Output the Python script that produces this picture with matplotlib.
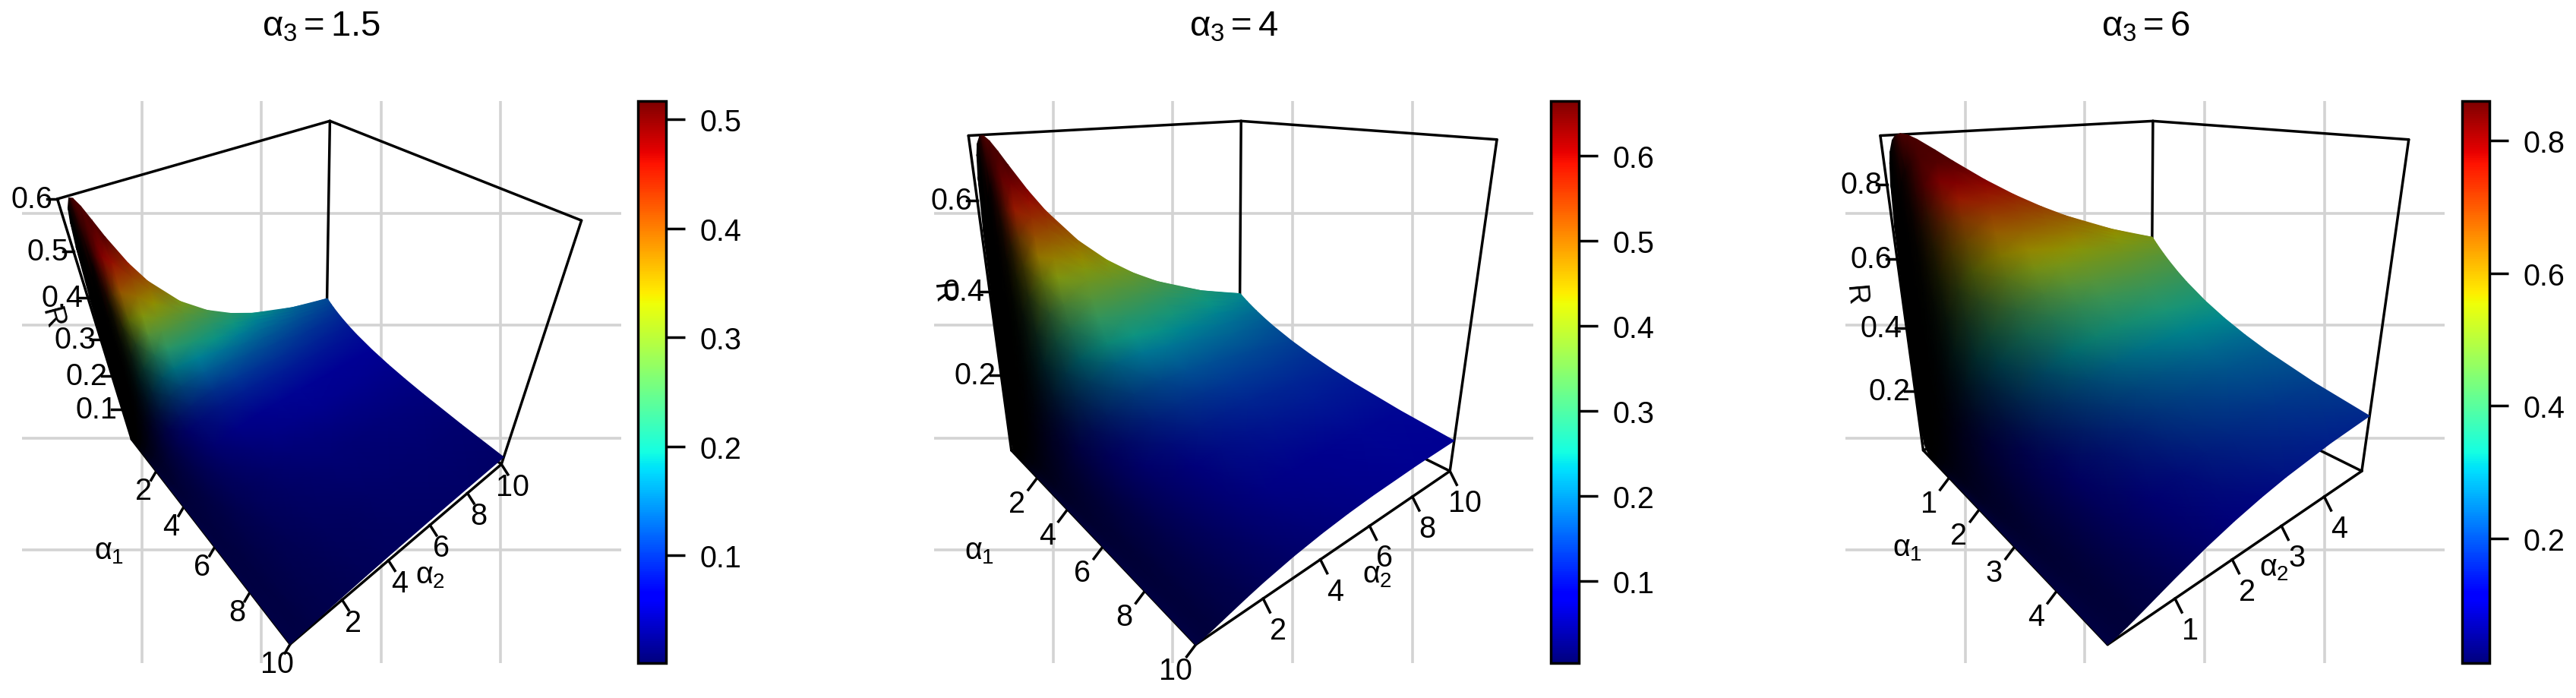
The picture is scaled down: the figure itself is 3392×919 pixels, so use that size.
import numpy as np, matplotlib
matplotlib.use('Agg')
import matplotlib.pyplot as plt
from matplotlib.cm import ScalarMappable
from matplotlib.colors import Normalize
plt.rcParams['font.family']=['Liberation Sans','DejaVu Sans']
plt.rcParams['mathtext.fontset']='custom'
plt.rcParams['mathtext.rm']='Liberation Sans'
plt.rcParams['mathtext.it']='Liberation Sans'
plt.rcParams['mathtext.bf']='Liberation Sans'

# Axis values (alpha_1 rows, alpha_2 columns); the third panel spans half this range
alpha1_values=[.02,.06,.12,.2,.3,.45,.7,1,1.5,2,3,4,5,6,8,10]
alpha2_values=[0,.05,.1,.15,.2,.3,.4,.55,.75,1,1.5,2,3,4,5,6,8,10]
axis_limits=[10,10,5]
# R values, in units of 1e-4
R_alpha3_15=[
[1597,4071,5084,5566,5808,5971,5944,5775,5474,5089,4416,3882,3114,2595,2224,1944,1554,1294],
[448,1783,2750,3409,3863,4398,4655,4785,4741,4554,4091,3662,2993,2519,2171,1906,1531,1278],
[177,853,1491,2019,2443,3050,3431,3749,3910,3909,3673,3369,2826,2411,2095,1850,1497,1255],
[86,456,856,1228,1556,2084,2469,2851,3126,3259,3216,3035,2627,2279,2001,1780,1453,1226],
[48,268,525,780,1021,1439,1774,2146,2460,2667,2766,2689,2408,2130,1894,1699,1402,1191],
[27,154,311,476,638,940,1202,1519,1823,2061,2262,2280,2133,1935,1749,1587,1331,1141],
[14,82,171,267,366,560,741,976,1227,1452,1701,1793,1777,1670,1546,1427,1224,1066],
[8,49,104,164,228,357,482,654,849,1039,1282,1403,1464,1423,1349,1268,1114,986],
[4,27,58,93,130,208,287,399,533,675,878,1003,1112,1127,1102,1060,964,873],
[3,18,38,62,87,140,195,275,374,483,650,762,881,921,922,904,845,780],
[2,10,21,34,49,79,111,159,221,291,408,494,603,657,681,686,669,637],
[1,6,14,22,32,52,74,107,150,200,286,353,446,499,529,543,546,532],
[1,5,10,16,23,38,54,78,110,148,215,269,347,396,426,444,457,454],
[1,3,8,12,18,29,41,60,85,115,169,213,280,324,353,372,390,393],
[0,2,5,8,12,19,27,40,57,77,114,146,196,231,257,275,296,305],
[0,2,4,6,8,14,20,29,41,56,84,108,147,176,197,214,235,246]]
R_alpha3_4=[
[1674,5432,6481,6921,7134,7286,7286,7178,6965,6672,6106,5609,4810,4204,3733,3356,2791,2388],
[470,2880,4235,5024,5517,6060,6312,6444,6423,6272,5854,5434,4708,4136,3685,3320,2768,2373],
[186,1541,2640,3435,4014,4767,5205,5554,5731,5741,5509,5187,4562,4040,3615,3267,2735,2350],
[90,879,1664,2321,2856,3640,4163,4650,4984,5142,5099,4887,4379,3916,3525,3198,2691,2320],
[50,536,1083,1589,2034,2749,3277,3822,4255,4528,4653,4550,4167,3770,3418,3116,2639,2283],
[28,316,673,1030,1367,1953,2428,2967,3451,3810,4096,4112,3879,3567,3267,3000,2563,2230],
[15,173,384,610,835,1260,1634,2101,2569,2968,3383,3522,3468,3266,3039,2821,2445,2146],
[9,105,239,387,541,846,1131,1509,1920,2304,2767,2981,3062,2958,2799,2629,2315,2052],
[5,59,136,225,320,517,711,984,1304,1631,2081,2339,2540,2541,2462,2354,2122,1910],
[3,39,91,151,217,357,499,706,959,1232,1638,1899,2151,2213,2188,2123,1954,1784],
[2,21,51,85,124,207,295,427,598,793,1111,1343,1617,1736,1771,1761,1679,1569],
[1,14,33,56,82,139,200,294,418,564,817,1014,1272,1409,1472,1491,1462,1395],
[1,10,24,41,60,101,147,217,313,428,633,800,1035,1173,1248,1284,1288,1250],
[1,8,18,31,46,78,114,169,245,339,509,652,863,996,1076,1121,1147,1129],
[0,5,12,20,30,52,75,113,166,231,355,464,634,752,830,881,930,938],
[0,4,9,15,22,37,55,83,122,171,266,352,491,593,666,717,774,795]]
R_alpha3_6=[
[3642,6980,8050,8550,8834,9113,9225,9267,9222,9103,8800,8482,7878,7342,6870,6452,5751,5186],
[1288,3989,5481,6382,6972,7680,8067,8375,8545,8587,8457,8231,7720,7230,6786,6386,5707,5154],
[556,2245,3538,4480,5181,6133,6732,7281,7674,7901,7985,7877,7494,7070,6664,6290,5642,5106],
[282,1321,2287,3093,3754,4751,5448,6153,6723,7118,7420,7444,7209,6864,6507,6166,5557,5044],
[161,821,1516,2152,2714,3634,4336,5104,5784,6306,6802,6955,6876,6620,6319,6016,5454,4969],
[90,492,956,1415,1848,2614,3250,4003,4732,5347,6023,6316,6424,6281,6054,5802,5306,4860],
[48,273,553,849,1144,1707,2215,2868,3561,4206,5015,5447,5772,5776,5651,5472,5073,4686],
[28,166,346,543,748,1156,1546,2078,2684,3291,4131,4640,5124,5254,5223,5116,4815,4490],
[16,94,199,318,446,712,980,1368,1840,2352,3135,3672,4281,4541,4620,4603,4431,4194],
[10,62,133,214,304,494,691,986,1362,1787,2483,2999,3647,3976,4125,4169,4096,3928],
[6,34,74,121,174,288,411,601,855,1159,1699,2139,2764,3144,3365,3482,3539,3474],
[4,22,49,80,116,194,279,414,599,829,1256,1624,2188,2566,2812,2965,3098,3101],
[3,16,35,58,84,142,205,308,450,630,976,1287,1788,2146,2396,2564,2742,2791],
[2,12,27,45,65,109,159,240,354,500,787,1052,1496,1829,2073,2247,2449,2529],
[1,8,18,29,42,72,106,161,240,343,552,752,1105,1388,1609,1778,1998,2113],
[1,6,13,21,31,52,77,117,176,254,414,571,859,1100,1295,1452,1671,1800]]
tables=[R_alpha3_15,R_alpha3_4,R_alpha3_6]
axis_ticks=[[2,4,6,8,10],[2,4,6,8,10],[1,2,3,4]]
r_ticks=[[.1,.2,.3,.4,.5,.6],[.2,.4,.6],[.2,.4,.6,.8]]
bar_ticks=[[.1,.2,.3,.4,.5],[.1,.2,.3,.4,.5,.6],[.2,.4,.6,.8]]
bar_ranges=[(.001,.5168),(.0037,.664),(.0116,.86)]
r_tops=[.6,.73,.924]
titles=[r'$\alpha_3 = 1.5$',r'$\alpha_3 = 4$',r'$\alpha_3 = 6$']

W,H=3392,920
fig=plt.figure(figsize=(W/100,H/100),dpi=100)
# Perspective camera of each panel, like the matrix returned by R's persp()
P1=np.array([[107.85271077464976,352.69070210535216,-119.6968174522051,173.41829588900237],[45.696541225509925,-37.11748145501301,-392.2565577601018,579.3072356305156],[-0.2638735132048742,0.22406287918077697,-0.28851302154137515,1.0]])
P2=np.array([[114.31569744793717,425.55931192232345,-68.8910462221544,131.17688958930552],[-36.00321597108059,30.541834791579465,-443.92478686618176,593.7810948923087],[-0.34351326521840125,0.2905133689955333,-0.165445774935169,1.0]])
P=[P1,P2,P2]
def proj(M,u,v,w):
    d=M[2,0]*u+M[2,1]*v+M[2,2]*w+M[2,3]
    return (M[0,0]*u+M[0,1]*v+M[0,2]*w+M[0,3])/d,(M[1,0]*u+M[1,1]*v+M[1,2]*w+M[1,3])/d
X0=[0,1200.6,2401.3]; CX=[839.6,2041.6,3241.5]
LW=2.5; FS=28.5
for i in range(3):
    ax=fig.add_axes([(X0[i]+29)/W,1-874/H,789/W,740/H])
    ax.set_xlim(29,818); ax.set_ylim(874,134)
    for sp in ax.spines.values(): sp.set_visible(False)
    ax.set_axisbelow(True)
    ax.set_xticks([186.7,343.8,501.6,659.4]); ax.set_yticks([282.2,429.5,578,725])
    ax.tick_params(length=0,labelbottom=False,labelleft=False)
    ax.grid(True,color='#D3D3D3',lw=2.6)
    Pi=P[i]
    c=[(0,0,1),(0,1,1),(1,1,1),(1,0,1),(0,0,0),(0,1,0),(1,1,0),(1,0,0)]
    for a,b in [(0,1),(1,2),(0,4),(1,5),(2,6),(4,5),(5,6),(4,7),(7,6)]:
        pa=proj(Pi,*c[a]); pb=proj(Pi,*c[b])
        ax.plot([pa[0],pb[0]],[pa[1],pb[1]],color='k',lw=LW,solid_capstyle='round',zorder=2)
    Al=axis_limits[i]; zt=r_tops[i]
    a1=np.array(alpha1_values)*Al/10
    a2=np.array(alpha2_values)*Al/10
    AA,BB=np.meshgrid(a1,a2,indexing='ij')
    z=np.array(tables[i])/1e4
    sx,sy=proj(Pi,AA/Al,BB/Al,z/zt)
    g2=np.gradient(z/zt,a2/Al,axis=1)
    shade=.58*np.exp(-np.maximum(g2,0)/1.2)
    lo,hi=bar_ranges[i]
    norm=Normalize(lo,hi)
    rgb=plt.get_cmap('jet')(norm(z))[...,:3]*shade[...,None]
    ax.pcolormesh(sx,sy,rgb,shading='gouraud',zorder=3,antialiased=True)
    for t in axis_ticks[i]:
        px,py=proj(Pi,t/Al,0.,0.)
        dt=(-7,12) if i==0 else (-12,16); dl=(-17,26) if i==0 else (-27,34)
        ax.plot([px,px+dt[0]],[py,py+dt[1]],'k',lw=LW,zorder=2)
        ax.text(px+dl[0],py+dl[1],str(t),ha='center',va='center',fontsize=FS,zorder=5)
        px,py=proj(Pi,1.,t/Al,0.)
        dt=(8.6,13.5) if i==0 else (9,18); dl=(15,30) if i==0 else (20,42)
        ax.plot([px,px+dt[0]],[py,py+dt[1]],'k',lw=LW,zorder=2)
        ax.text(px+dl[0],py+dl[1],str(t),ha='center',va='center',fontsize=FS,zorder=5)
    for t in r_ticks[i]:
        px,py=proj(Pi,0.,0.,t/zt)
        ax.plot([px,px-14],[py,py],'k',lw=LW,zorder=2)
        ax.text(px-34,py,f'{t:.1f}',ha='center',va='center',fontsize=FS,zorder=5)
    ax.text(423.5,48,titles[i],ha='center',va='baseline',fontsize=34)
    la1=[(144,726),(89.4,726),(110.7,722)][i]
    la2=[(566,758),(612.4,757),(592.7,748)][i]
    la3=[(68,420),(39.4,387),(40.7,390)][i]
    ax.text(*la1,r'$\alpha_1$',ha='center',va='center',fontsize=FS,zorder=5)
    ax.text(*la2,r'$\alpha_2$',ha='center',va='center',fontsize=FS,zorder=5)
    ax.text(*la3,'R',ha='center',va='center',fontsize=27,rotation=[-75,-85,-85][i],zorder=5)
    cax=fig.add_axes([CX[i]/W,1-874/H,37/W,740/H])
    cb=fig.colorbar(ScalarMappable(norm,'jet'),cax=cax)
    cb.set_ticks(bar_ticks[i]); cb.ax.tick_params(labelsize=FS,length=18,width=LW,pad=14)
    cb.outline.set_linewidth(LW)
fig.savefig('out.png',dpi=100)
